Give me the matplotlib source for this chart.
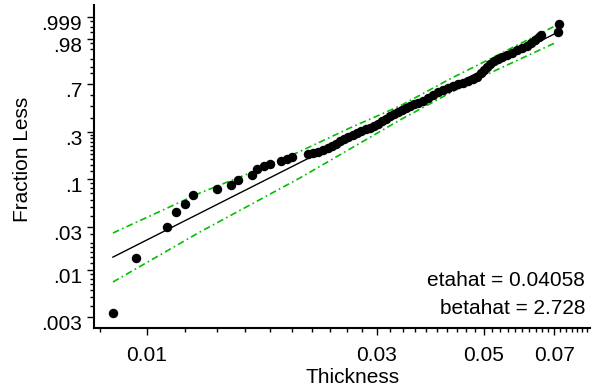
import numpy as np
import matplotlib
matplotlib.use("Agg")
import matplotlib.pyplot as plt
from matplotlib.ticker import FixedLocator, NullFormatter
from matplotlib.transforms import ScaledTranslation

plt.rcParams['font.family'] = ['Liberation Sans', 'DejaVu Sans']

# data
thickness = [0.00850, 0.00949, 0.01100, 0.01149, 0.01199, 0.01246, 0.01398, 0.01494,
             0.01545, 0.01652, 0.01692, 0.01749, 0.01800, 0.01897, 0.01952, 0.01999,
             0.02158, 0.02210, 0.02264, 0.02318, 0.02374, 0.02420, 0.02467, 0.02514,
             0.02563, 0.02612, 0.02675, 0.02727, 0.02780, 0.02847, 0.02902, 0.02958,
             0.03015, 0.03073, 0.03132, 0.03193, 0.03254, 0.03317, 0.03381, 0.03446,
             0.03513, 0.03580, 0.03650, 0.03738, 0.03828, 0.03920, 0.04015, 0.04112,
             0.04212, 0.04313, 0.04418, 0.04524, 0.04634, 0.04746, 0.04837, 0.04931,
             0.05002, 0.05074, 0.05147, 0.05247, 0.05348, 0.05451, 0.05583, 0.05718,
             0.05856, 0.05998, 0.06142, 0.06261, 0.06382, 0.06505, 0.06568, 0.07124,
             0.07158]
frac_less = [0.00333, 0.01367, 0.03013, 0.04403, 0.05384, 0.06741, 0.07821, 0.08632,
             0.09760, 0.1103, 0.1275, 0.1370, 0.1437, 0.1543, 0.1618, 0.1696,
             0.1819, 0.1862, 0.1906, 0.1996, 0.2089, 0.2187, 0.2289, 0.2448,
             0.2558, 0.2674, 0.2794, 0.2917, 0.3046, 0.3178, 0.3245, 0.3384,
             0.3528, 0.3749, 0.3903, 0.4141, 0.4304, 0.4471, 0.4642, 0.4816,
             0.4993, 0.5173, 0.5264, 0.5448, 0.5726, 0.6009, 0.6293, 0.6482,
             0.6672, 0.6860, 0.7046, 0.7139, 0.7322, 0.7502, 0.7679, 0.8020,
             0.8262, 0.8489, 0.8702, 0.8899, 0.9020, 0.9134, 0.9239, 0.9336,
             0.9466, 0.9542, 0.9611, 0.9701, 0.9774, 0.9834, 0.9866, 0.9905,
             0.9967]

# pointwise confidence band
band_x = [0.008502, 0.012884, 0.016360, 0.020765, 0.026367, 0.033488, 0.042511, 0.051471, 0.070897]
band_upper = [0.02586, 0.07083, 0.1157, 0.1927, 0.3246, 0.4993, 0.7503, 0.9020, 0.99623]
band_lower = [0.007385, 0.02653, 0.05250, 0.1026, 0.2042, 0.3826, 0.6198, 0.8019, 0.97267]

etahat = 0.04058
betahat = 2.728

y_major = [0.003, 0.01, 0.03, 0.1, 0.3, 0.7, 0.98, 0.999]
y_labels = ['.003', '.01', '.03', '.1', '.3', '.7', '.98', '.999']
y_minor = [0.004, 0.005, 0.006, 0.007, 0.008, 0.009,
           0.012, 0.014, 0.016, 0.018, 0.02, 0.025,
           0.04, 0.05, 0.06, 0.07, 0.08, 0.09,
           0.12, 0.14, 0.16, 0.18, 0.2, 0.22, 0.24, 0.26, 0.28,
           0.4, 0.5, 0.6, 0.8, 0.85, 0.9, 0.95, 0.97, 0.99, 0.995, 0.998]
x_major = [0.01, 0.03, 0.05, 0.07]
x_labels = ['0.01', '0.03', '0.05', '0.07']
x_minor = [0.008, 0.012, 0.014, 0.016, 0.018, 0.02, 0.022, 0.024, 0.026, 0.028,
           0.032, 0.034, 0.036, 0.038, 0.04, 0.042, 0.044, 0.046, 0.048,
           0.052, 0.054, 0.056, 0.058, 0.06, 0.062, 0.064, 0.066, 0.068,
           0.072, 0.074, 0.076, 0.078, 0.08, 0.082]


def weib(p):
    p = np.asarray(p, dtype=float)
    with np.errstate(all='ignore'):
        return np.log(-np.log1p(-p))


def weib_inv(z):
    z = np.asarray(z, dtype=float)
    with np.errstate(all='ignore'):
        return -np.expm1(-np.exp(z))


fig = plt.figure(figsize=(5.95, 3.91), dpi=100)
ax = fig.add_axes([94 / 595, 63 / 391, 496 / 595, 323 / 391])
ax.set_xscale('log')
ax.set_yscale('function', functions=(weib, weib_inv))

# fitted weibull line over the data range
fit_x = np.array([min(thickness), max(thickness)])
fit_p = 1 - np.exp(-(fit_x / etahat) ** betahat)
ax.plot(fit_x, fit_p, color='black', lw=1.0, zorder=2)

green = '#00c000'
ax.plot(band_x, band_upper, color=green, lw=1.2, ls=(0, (4, 2, 1, 2)), zorder=1)
ax.plot(band_x, band_lower, color=green, lw=1.2, ls=(0, (4, 2, 1, 2)), zorder=1)

ax.plot(thickness, frac_less, 'o', color='black', ms=5.8, mec='black', zorder=3)

ax.set_xlim(0.007766, 0.08301)
ax.set_ylim(0.002261, 0.999912)

ax.xaxis.set_major_locator(FixedLocator(x_major))
ax.xaxis.set_ticklabels(x_labels)
ax.xaxis.set_minor_locator(FixedLocator(x_minor))
ax.xaxis.set_minor_formatter(NullFormatter())
ax.yaxis.set_major_locator(FixedLocator(y_major))
ax.yaxis.set_ticklabels(y_labels)
ax.yaxis.set_minor_locator(FixedLocator(y_minor))
ax.yaxis.set_minor_formatter(NullFormatter())

for side in ['top', 'right']:
    ax.spines[side].set_visible(False)
for side in ['left', 'bottom']:
    ax.spines[side].set_linewidth(1.5)

ax.tick_params(which='major', direction='out', length=5, width=1.0, labelsize=15)
ax.tick_params(which='minor', direction='out', length=3, width=1.0)
ax.tick_params(axis='x', which='major', pad=8)
ax.tick_params(axis='y', which='major', pad=3.5)

ax.set_xlabel('Thickness', fontsize=15)
ax.xaxis.set_label_coords((352.5 - 94) / 496, (328 - 383) / 323)
ax.xaxis.label.set_va('baseline')
ax.set_ylabel('Fraction Less', fontsize=15)
ax.yaxis.set_label_coords((32.5 - 94) / 496, (328 - 159.5) / 323)

fig.text(585 / 595, 1 - 285.5 / 391, 'etahat = 0.04058', ha='right', va='baseline', fontsize=15)
fig.text(585 / 595, 1 - 314 / 391, 'betahat = 2.728', ha='right', va='baseline', fontsize=15)

fig.canvas.draw()
# labels on the value axis sit a little below their ticks
shift = ScaledTranslation(0, -0.055, fig.dpi_scale_trans)
for lab in ax.get_yticklabels():
    lab.set_transform(lab.get_transform() + shift)

fig.savefig('out.png', dpi=100)
